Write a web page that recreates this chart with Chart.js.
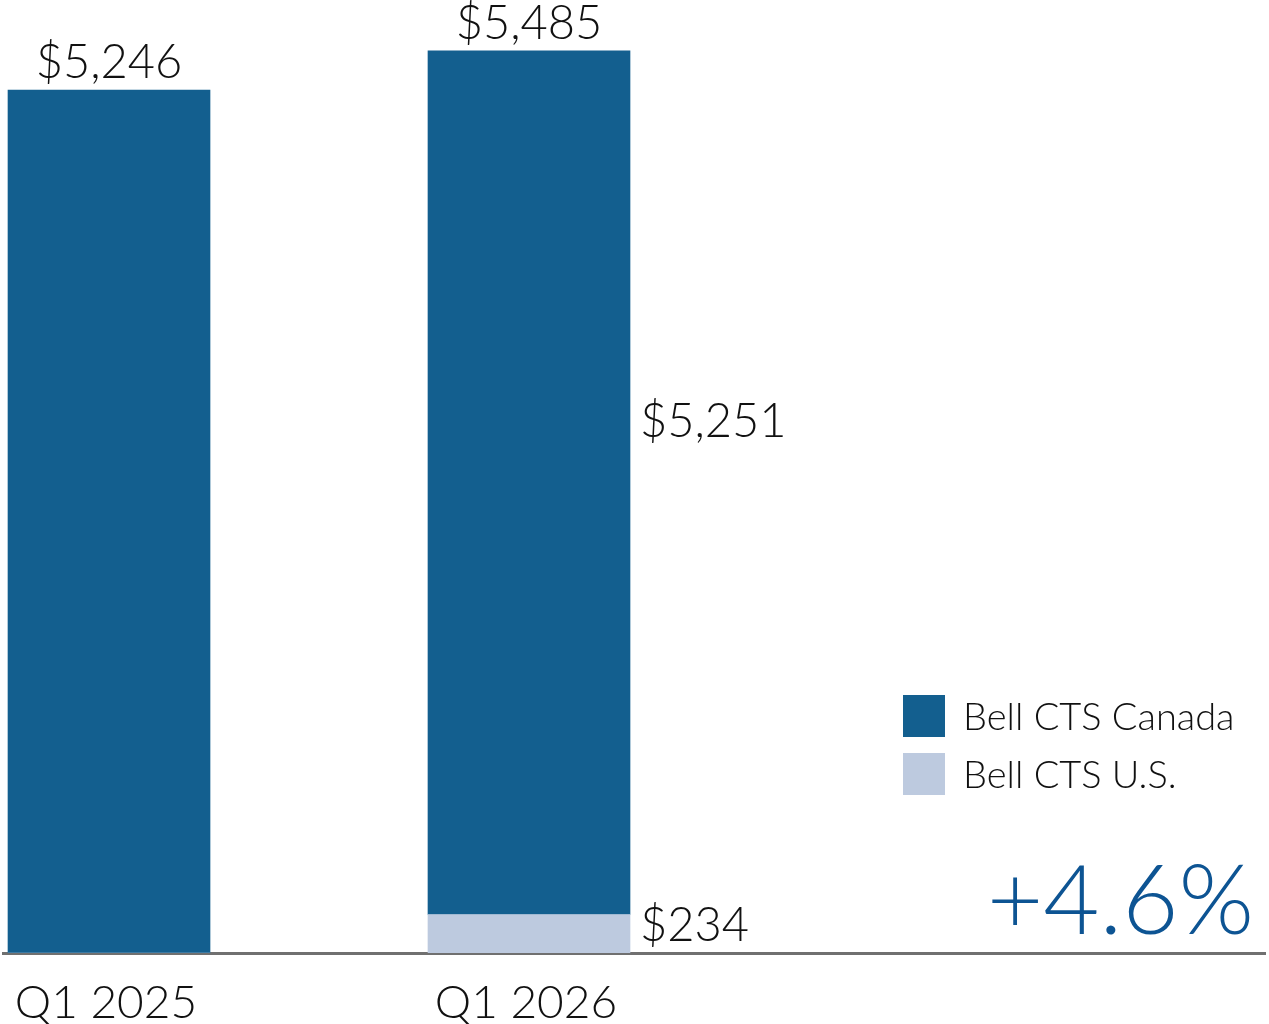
<!DOCTYPE html>
<html lang="en">
<head>
<meta charset="UTF-8">
<title>Bell CTS revenue Q1 2025 vs Q1 2026</title>
<script src="https://cdn.jsdelivr.net/npm/chart.js@4"></script>
<style>
  html, body { margin: 0; padding: 0; background: #ffffff; }
  #wrap { width: 1269px; height: 1024px; position: relative; }
</style>
</head>
<body>
<div id="wrap"><canvas id="chart" width="1269" height="1024"></canvas></div>
<script>
// Chart data
const categories = ['Q1 2025', 'Q1 2026'];
const seriesNames = ['Bell CTS Canada', 'Bell CTS U.S.'];
const canadaValues = [5246, 5251];
const usValues = [0, 234];
const changeLabel = '+4.6%';

const DARK = '#135f8f';
const LIGHT = '#bdcadf';
const FONT = 'Lato, "Open Sans", sans-serif';

// x range (in category units) so that the two bars sit at the left of the plot
const X_MIN = -0.2524;
const X_MAX = 2.7524;

const money = v => '$' + v.toLocaleString('en-US');

// Category labels, value labels, legend and the change figure
const annotations = {
  id: 'annotations',
  afterDatasetsDraw(chart) {
    const ctx = chart.ctx;
    const xs = chart.scales.x;
    const metas = chart.data.datasets.map((d, i) => chart.getDatasetMeta(i));
    ctx.save();
    ctx.fillStyle = '#111111';

    categories.forEach((cat, i) => {
      const els = metas.map(m => m.data[i]);
      const x = xs.getPixelForValue(i);
      const top = Math.min(...els.map(e => e.y));
      const total = chart.data.datasets.reduce((s, d) => s + d.data[i].y, 0);

      // category label under the axis
      ctx.font = '300 46px ' + FONT;
      ctx.textAlign = 'center';
      ctx.textBaseline = 'alphabetic';
      ctx.fillText(cat, x - 3, xs.top + 65);

      // total above the stack
      ctx.font = '300 47px ' + FONT;
      ctx.fillText(money(total), x, top - 12);

      // segment labels on the right when the bar is split
      const parts = chart.data.datasets.filter(d => d.data[i].y > 0);
      if (parts.length > 1) {
        ctx.textAlign = 'left';
        chart.data.datasets.forEach((d, di) => {
          const e = els[di];
          const h = e.base - e.y;
          const lx = x + e.width / 2 + 10;
          if (h < 60) {
            ctx.textBaseline = 'alphabetic';
            ctx.fillText(money(d.data[i].y), lx, e.base - 12);
          } else {
            ctx.textBaseline = 'middle';
            ctx.fillText(money(d.data[i].y), lx, e.y + h * 0.43);
          }
        });
      }
    });

    // legend (Canada first, U.S. below)
    const legendItems = [
      { label: seriesNames[0], color: DARK },
      { label: seriesNames[1], color: LIGHT }
    ];
    ctx.font = '300 38px ' + FONT;
    ctx.textAlign = 'left';
    ctx.textBaseline = 'middle';
    legendItems.forEach((item, k) => {
      const y = 695 + k * 58;
      ctx.fillStyle = item.color;
      ctx.fillRect(903, y, 42, 42);
      ctx.fillStyle = '#111111';
      ctx.fillText(item.label, 963, y + 23);
    });

    // growth figure
    ctx.font = '300 97px ' + FONT;
    ctx.fillStyle = '#0d5493';
    ctx.textAlign = 'right';
    ctx.textBaseline = 'alphabetic';
    ctx.fillText(changeLabel, 1254, 934);

    ctx.restore();
  }
};

const ctx = document.getElementById('chart').getContext('2d');
new Chart(ctx, {
  type: 'bar',
  data: {
    datasets: [
      {
        label: seriesNames[1],
        data: usValues.map((v, i) => ({ x: i, y: v })),
        backgroundColor: LIGHT,
        borderWidth: 0
      },
      {
        label: seriesNames[0],
        data: canadaValues.map((v, i) => ({ x: i, y: v })),
        backgroundColor: DARK,
        borderWidth: 0
      }
    ]
  },
  options: {
    responsive: false,
    animation: false,
    devicePixelRatio: 1,
    layout: { padding: { left: 3, right: 4, top: 0, bottom: 71 } },
    barThickness: 202,
    plugins: {
      legend: { display: false },
      tooltip: { enabled: false }
    },
    scales: {
      x: {
        type: 'linear',
        stacked: true,
        offset: false,
        bounds: 'data',
        min: X_MIN,
        max: X_MAX,
        afterBuildTicks: axis => {
          axis.ticks = categories.map((c, i) => ({ value: i }));
          axis.min = X_MIN;
          axis.max = X_MAX;
        },
        grid: { display: false, drawTicks: false },
        border: { display: true, color: '#707070', width: 3 },
        ticks: { display: false }
      },
      y: {
        display: false,
        stacked: true,
        min: 0,
        max: 5794
      }
    }
  },
  plugins: [annotations]
});
</script>
</body>
</html>
